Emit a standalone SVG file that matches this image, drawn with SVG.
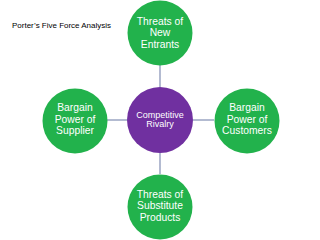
<svg xmlns="http://www.w3.org/2000/svg" width="320" height="240" viewBox="0 0 320 240">
  <style>
    .force { fill: #22b24c; }
    .core { fill: #7030a0; }
    .lbl { font-family: "Liberation Sans", Arial, sans-serif; font-size: 10.3px; fill: #ffffff; text-anchor: middle; }
    .lblc { font-family: "Liberation Sans", Arial, sans-serif; font-size: 9px; fill: #ffffff; text-anchor: middle; }
    .title { font-family: "Liberation Sans", Arial, sans-serif; font-size: 8px; fill: #000000; }
    .conn { stroke: #8a96b8; stroke-width: 1.3; fill: none; }
  </style>
  <rect width="320" height="240" fill="#ffffff"/>
  <text class="title" x="12" y="27.5" textLength="99" lengthAdjust="spacingAndGlyphs">Porter’s Five Force Analysis</text>
  <g id="connectors">
    <line class="conn" x1="160" y1="65" x2="160" y2="87"/>
    <line class="conn" x1="160" y1="153" x2="160" y2="174"/>
    <line class="conn" x1="107" y1="120" x2="127" y2="120"/>
    <line class="conn" x1="193" y1="120" x2="214" y2="120"/>
  </g>
  <g id="rivalry">
    <circle class="core" cx="160" cy="120" r="33"/>
    <text class="lblc" x="160" y="117.5">Competitive</text>
    <text class="lblc" x="160" y="127">Rivalry</text>
  </g>
  <g id="new-entrants">
    <circle class="force" cx="160" cy="33" r="32.5"/>
    <text class="lbl" x="160" y="24.5">Threats of</text>
    <text class="lbl" x="160" y="36">New</text>
    <text class="lbl" x="160" y="47.5">Entrants</text>
  </g>
  <g id="supplier">
    <circle class="force" cx="75" cy="121" r="32.5"/>
    <text class="lbl" x="75" y="111">Bargain</text>
    <text class="lbl" x="75" y="122.5">Power of</text>
    <text class="lbl" x="75" y="134">Supplier</text>
  </g>
  <g id="customers">
    <circle class="force" cx="247" cy="121" r="32.5"/>
    <text class="lbl" x="247" y="111">Bargain</text>
    <text class="lbl" x="247" y="122.5">Power of</text>
    <text class="lbl" x="247" y="134">Customers</text>
  </g>
  <g id="substitutes">
    <circle class="force" cx="160" cy="207" r="32.5"/>
    <text class="lbl" x="160" y="197.5">Threats of</text>
    <text class="lbl" x="160" y="209">Substitute</text>
    <text class="lbl" x="160" y="221">Products</text>
  </g>
</svg>
